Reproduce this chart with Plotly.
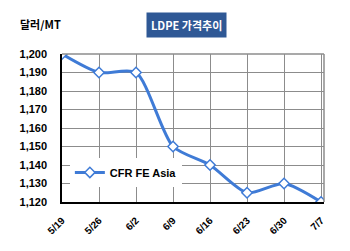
import plotly.graph_objects as go

dates = ["5/19", "5/26", "6/2", "6/9", "6/16", "6/23", "6/30", "7/7"]
cfr_fe_asia = [1200, 1190, 1190, 1150, 1140, 1125, 1130, 1120]
y_ticks = [1120, 1130, 1140, 1150, 1160, 1170, 1180, 1190, 1200]
y_tick_text = [f"{v:,}" for v in y_ticks]

blue = "#3F7BD6"
grid = "#8C8C8C"
font_fam = "Arial, Liberation Sans, Noto Sans CJK KR, sans-serif"

fig = go.Figure()
fig.add_trace(go.Scatter(
    x=dates, y=cfr_fe_asia, mode="lines+markers", name="CFR FE Asia",
    line=dict(color=blue, width=3, shape="spline", smoothing=0.7),
    marker=dict(symbol="diamond", size=8, color="white", line=dict(color=blue, width=1.5)),
))

fig.update_layout(
    width=350, height=251,
    margin=dict(l=62, r=26, t=54, b=49),
    paper_bgcolor="white", plot_bgcolor="white",
    font=dict(family=font_fam, size=11, color="black"),
    showlegend=True,
    legend=dict(x=0.03, y=0.2, xanchor="left", yanchor="middle",
                bgcolor="white", borderwidth=0,
                font=dict(size=11, weight="bold", family=font_fam),
                itemwidth=30, tracegroupgap=0),
    xaxis=dict(type="category", range=[0, 7.08], showgrid=True, gridcolor=grid, gridwidth=1,
               showline=True, linecolor="black", linewidth=1.5,
               ticks="outside", ticklen=7, tickcolor="rgba(0,0,0,0)",
               tickangle=-45, tickfont=dict(size=10, weight="bold"), zeroline=False),
    yaxis=dict(range=[1120, 1200], tickvals=y_ticks, ticktext=y_tick_text,
               showgrid=True, gridcolor=grid, gridwidth=1,
               showline=True, linecolor="black", linewidth=1.5,
               ticks="outside", ticklen=11, tickcolor="rgba(0,0,0,0)",
               tickfont=dict(size=11, weight="bold"), zeroline=False),
    shapes=[
        dict(type="line", xref="paper", yref="paper", x0=1, x1=1, y0=0, y1=1,
             line=dict(color=grid, width=1.5)),
        dict(type="line", xref="paper", yref="paper", x0=0, x1=1, y0=1, y1=1,
             line=dict(color=grid, width=1.5)),
    ],
    annotations=[
        dict(text="<b>LDPE 가격추이</b>", xref="paper", yref="paper", x=(186 - 62) / 262,
             y=(202 - 25) / 148,
             showarrow=False, font=dict(color="white", size=11, family="Noto Sans CJK KR, sans-serif"),
             bgcolor="#2F5895", borderpad=4, xanchor="center", yanchor="middle"),
        dict(text="<b>달러/MT</b>", xref="paper", yref="paper", x=-44 / 262, y=(202 - 24) / 148,
             showarrow=False, font=dict(color="black", size=11, family="Noto Sans CJK KR, sans-serif"),
             xanchor="left", yanchor="middle"),
    ],
)

fig.write_html("out.html")
